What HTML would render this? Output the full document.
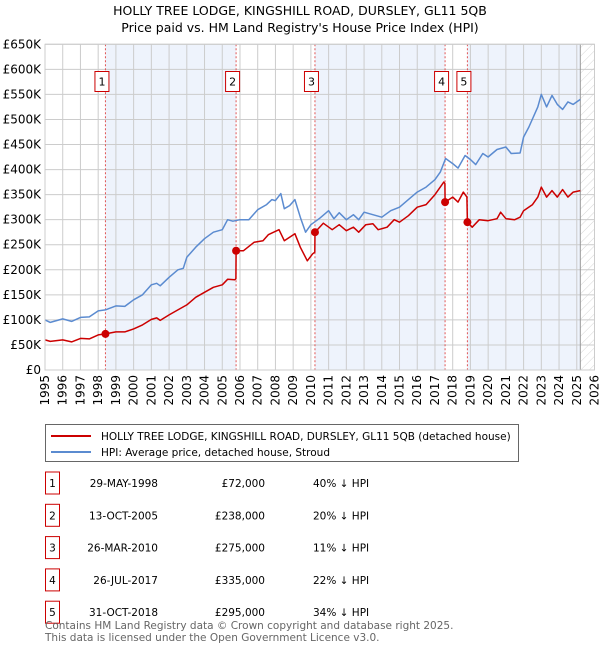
<!DOCTYPE html>
<html><head><meta charset="utf-8"><style>
body{margin:0;background:#fff;font-family:"Liberation Sans","DejaVu Sans",sans-serif;}
svg text{font-family:"DejaVu Sans","Liberation Sans",sans-serif;}
</style></head><body>
<svg id="chart" width="600" height="650" xmlns="http://www.w3.org/2000/svg">
<defs><pattern id="hatch" width="6" height="6" patternUnits="userSpaceOnUse" patternTransform="rotate(45)"><line x1="0" y1="0" x2="0" y2="6" stroke="#ccc" stroke-width="0.8"/></pattern></defs>
<text x="300" y="15" text-anchor="middle" font-size="12.5">HOLLY TREE LODGE, KINGSHILL ROAD, DURSLEY, GL11 5QB</text>
<text x="300" y="32" text-anchor="middle" font-size="12.5">Price paid vs. HM Land Registry's House Price Index (HPI)</text>
<g id="plot"></g>
<g>
<rect x="45.5" y="424.5" width="473" height="37" fill="#fff" stroke="#666"/>
<line x1="51" y1="436" x2="91" y2="436" stroke="#cc0000" stroke-width="2"/>
<text x="101" y="440" font-size="10.5">HOLLY TREE LODGE, KINGSHILL ROAD, DURSLEY, GL11 5QB (detached house)</text>
<line x1="51" y1="452" x2="91" y2="452" stroke="#5b8bd0" stroke-width="2"/>
<text x="101" y="456" font-size="10.5">HPI: Average price, detached house, Stroud</text>
</g>
<g id="table"></g>
<text x="45" y="629" font-size="10.5" fill="#666">Contains HM Land Registry data © Crown copyright and database right 2025.</text>
<text x="45" y="641" font-size="10.5" fill="#666">This data is licensed under the Open Government Licence v3.0.</text>
</svg>
<script>
const hpiYears=[1995,1995.3,1996,1996.5,1997,1997.5,1998,1998.4,1999,1999.5,2000,2000.5,2001,2001.3,2001.5,2002,2002.5,2002.8,2003,2003.5,2004,2004.5,2005,2005.3,2005.6,2006,2006.5,2007,2007.5,2007.8,2008,2008.3,2008.5,2008.8,2009.1,2009.4,2009.7,2010,2010.5,2011,2011.3,2011.6,2012,2012.4,2012.7,2013,2013.5,2014,2014.5,2015,2015.5,2016,2016.5,2017,2017.3,2017.6,2018,2018.3,2018.7,2019,2019.3,2019.7,2020,2020.5,2021,2021.3,2021.8,2022,2022.3,2022.8,2023,2023.3,2023.6,2023.9,2024.2,2024.5,2024.8,2025.2];
const hpiValues=[100,95,102,97,105,106,118,120,128,127,140,150,170,173,168,185,200,203,225,245,262,275,280,300,297,300,300,320,330,340,338,352,322,328,340,305,275,290,303,318,302,314,300,310,300,315,310,305,318,325,340,355,365,380,395,422,412,403,428,420,410,432,425,440,445,432,433,465,485,525,550,525,548,530,520,535,530,540];
const ppYears=[1995,1995.3,1996,1996.5,1997,1997.5,1998,1998.41,1999,1999.5,2000,2000.5,2001,2001.3,2001.5,2002,2002.5,2003,2003.5,2004,2004.5,2005,2005.3,2005.7,2005.77,2005.78,2006.2,2006.8,2007.3,2007.6,2008.2,2008.5,2009.1,2009.4,2009.8,2010.1,2010.22,2010.23,2010.7,2011.2,2011.6,2012,2012.4,2012.7,2013.1,2013.5,2013.8,2014.3,2014.7,2015,2015.5,2016,2016.5,2017,2017.5,2017.56,2017.57,2018,2018.3,2018.6,2018.8,2018.83,2019.1,2019.5,2020,2020.5,2020.7,2021,2021.5,2021.8,2022,2022.5,2022.8,2023,2023.3,2023.6,2023.9,2024.2,2024.5,2024.8,2025.2];
const ppValues=[60,57,60,56,63,62,70,72,76,76,82,90,101,104,99,110,120,130,145,155,165,170,181,180,182,238,238,255,258,270,280,258,272,245,218,232,235,275,293,280,290,278,285,275,290,292,280,285,300,295,308,325,330,350,375,372,335,345,335,355,345,295,285,300,298,302,315,302,300,305,318,330,345,365,345,358,345,360,345,355,358];
const saleLabels=["1","2","3","4","5"];
const saleYears=[1998.41,2005.78,2010.23,2017.57,2018.83];
const salePrices=[72,238,275,335,295];
const saleDates=["29-MAY-1998","13-OCT-2005","26-MAR-2010","26-JUL-2017","31-OCT-2018"];
const salePriceText=["£72,000","£238,000","£275,000","£335,000","£295,000"];
const saleHpiText=["40% ↓ HPI","20% ↓ HPI","11% ↓ HPI","22% ↓ HPI","34% ↓ HPI"];
const yTicks=[0,50,100,150,200,250,300,350,400,450,500,550,600,650];
const yTickLabels=["£0","£50K","£100K","£150K","£200K","£250K","£300K","£350K","£400K","£450K","£500K","£550K","£600K","£650K"];
const xTicks=[1995,1996,1997,1998,1999,2000,2001,2002,2003,2004,2005,2006,2007,2008,2009,2010,2011,2012,2013,2014,2015,2016,2017,2018,2019,2020,2021,2022,2023,2024,2025,2026];
const dataEnd=2025.2;

const X0=45,X1=594.5,Y0=370,Y1=44.3,xmin=1995,xmax=2026,ymax=650;
const xs=v=>X0+(v-xmin)/(xmax-xmin)*(X1-X0);
const ys=v=>Y0-v/ymax*(Y0-Y1);
const NS="http://www.w3.org/2000/svg";
function mk(tag,attrs,parent){const e=document.createElementNS(NS,tag);for(const k in attrs)e.setAttribute(k,attrs[k]);parent.appendChild(e);return e;}
const plot=document.getElementById('plot');
const shadePairs=[[saleYears[0],saleYears[1]],[saleYears[2],saleYears[3]],[saleYears[4],dataEnd]];
shadePairs.forEach((p,i)=>{const r=mk('rect',{x:xs(p[0]),y:Y1,width:xs(p[1])-xs(p[0]),height:Y0-Y1,fill:'#eef3fc'},plot);

});
const h=mk('rect',{x:xs(dataEnd),y:Y1,width:X1-xs(dataEnd),height:Y0-Y1,fill:'url(#hatch)'},plot);


yTicks.forEach((t,i)=>{const l=mk('line',{x1:X0,x2:X1,y1:ys(t),y2:ys(t),stroke:'#ccc','stroke-width':1},plot);


const tx=mk('text',{x:X0-4,y:ys(t)+4,'text-anchor':'end','font-size':12},plot);tx.textContent=yTickLabels[i];

});
xTicks.forEach(t=>{const l=mk('line',{x1:xs(t),x2:xs(t),y1:Y1,y2:Y0,stroke:'#ccc','stroke-width':1},plot);


const tx=mk('text',{transform:`translate(${xs(t)+4},${Y0+5}) rotate(-90)`,'text-anchor':'end','font-size':12},plot);tx.textContent=t;

});
const ed=mk('line',{x1:xs(dataEnd),x2:xs(dataEnd),y1:Y1,y2:Y0,stroke:'#999','stroke-width':1},plot);


saleYears.forEach((y,i)=>{const l=mk('line',{x1:xs(y),x2:xs(y),y1:Y1,y2:Y0,stroke:'#e05555','stroke-width':1,'stroke-dasharray':'2,2'},plot);


const bx=xs(y)-10.5;
const b=mk('rect',{x:bx,y:71.5,width:14,height:20,fill:'#fff',stroke:'#cc0000'},plot);


const t=mk('text',{x:bx+7,y:85.5,'text-anchor':'middle','font-size':11},plot);t.textContent=saleLabels[i];

});
function line(xa,ya,col,name){const d=xa.map((x,i)=>(i?'L':'M')+xs(x).toFixed(1)+','+ys(ya[i]).toFixed(1)).join('');
const p=mk('path',{d:d,fill:'none',stroke:col,'stroke-width':1.5,'stroke-linejoin':'round'},plot);

}
line(hpiYears,hpiValues,'#5b8bd0','hpi-line');
line(ppYears,ppValues,'#cc0000','price-paid-line');
saleYears.forEach((y,i)=>{const c=mk('circle',{cx:xs(y),cy:ys(salePrices[i]),r:4,fill:'#cc0000'},plot);

});
mk('rect',{x:X0,y:Y1,width:X1-X0,height:Y0-Y1,fill:'none',stroke:'#ccc'},plot);
const tb=document.getElementById('table');
saleLabels.forEach((s,i)=>{const cy=483+i*32.3;
const g=mk('g',{},tb);


mk('rect',{x:45.5,y:cy-11,width:14,height:22,fill:'#fff',stroke:'#cc0000'},g);
const a=mk('text',{x:52.5,y:cy+4,'text-anchor':'middle','font-size':10.5},g);a.textContent=s;
const b=mk('text',{x:158,y:cy+4,'text-anchor':'end','font-size':10.5},g);b.textContent=saleDates[i];
const c=mk('text',{x:265,y:cy+4,'text-anchor':'end','font-size':10.5},g);c.textContent=salePriceText[i];
const d=mk('text',{x:313,y:cy+4,'font-size':10.5},g);d.textContent=saleHpiText[i];});
</script>
</body></html>
